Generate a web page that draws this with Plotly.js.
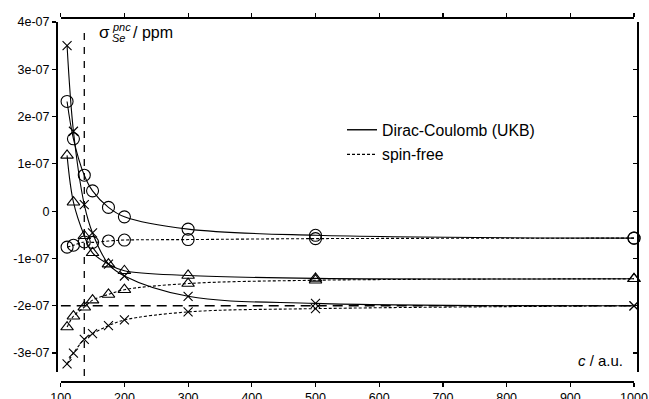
<!DOCTYPE html>
<html>
<head>
<meta charset="utf-8">
<script src="https://cdn.plot.ly/plotly-3.0.1.min.js"></script>
<style>
  html, body { margin: 0; padding: 0; background: #fff; }
  #chart { width: 649px; height: 399px; }
</style>
</head>
<body>
<div id="chart"></div>
<script>
// Speed of light c (a.u.) and shielding contribution for each basis set
const cValues = [110, 120, 137.036, 150, 175, 200, 300, 500, 1000];

// Dirac-Coulomb (UKB) results
const dcCircle   = [2.32e-7, 1.53e-7, 0.76e-7, 0.43e-7, 0.08e-7, -0.12e-7, -0.38e-7, -0.51e-7, -0.57e-7];
const dcTriangle = [1.18e-7, 0.19e-7, -0.52e-7, -0.88e-7, -1.12e-7, -1.26e-7, -1.36e-7, -1.42e-7, -1.43e-7];
const dcCross    = [3.50e-7, 1.69e-7, 0.14e-7, -0.46e-7, -1.12e-7, -1.37e-7, -1.80e-7, -1.95e-7, -2.00e-7];

// spin-free results
const sfCircle   = [-0.76e-7, -0.72e-7, -0.65e-7, -0.66e-7, -0.63e-7, -0.61e-7, -0.60e-7, -0.58e-7, -0.57e-7];
const sfTriangle = [-2.45e-7, -2.22e-7, -2.03e-7, -1.88e-7, -1.76e-7, -1.66e-7, -1.53e-7, -1.46e-7, -1.43e-7];
const sfCross    = [-3.23e-7, -3.00e-7, -2.71e-7, -2.59e-7, -2.42e-7, -2.30e-7, -2.13e-7, -2.06e-7, -2.00e-7];

// Reference lines: physical speed of light and the converged limit
const cPhysical = 137.036;
const sigmaLimit = -2e-7;

// Axis ticks
const xTicks = [100, 200, 300, 400, 500, 600, 700, 800, 900, 1000];
const yTickVals = [4e-7, 3e-7, 2e-7, 1e-7, 0, -1e-7, -2e-7, -3e-7];
const yTickText = ['4e-07', '3e-07', '2e-07', '1e-07', '0', '-1e-07', '-2e-07', '-3e-07'];

const legendNames = ['Dirac-Coulomb (UKB)', 'spin-free'];

const FONT = 'Liberation Sans, Arial, Helvetica, sans-serif';
const INK = '#000';

// figure geometry (pixels)
const W = 649, H = 399;
const M = { l: 56, r: 12, t: 17, b: 18 };
const PW = W - M.l - M.r, PH = H - M.t - M.b;
const px2x = p => (p - M.l) / PW;
const py2y = p => (H - M.b - p) / PH;

function series(y, symbol, dashed, size) {
  return {
    x: cValues, y: y, type: 'scatter', mode: 'lines+markers',
    showlegend: false, cliponaxis: false,
    line: { color: INK, width: 1.1, shape: 'spline', smoothing: 1, dash: dashed ? '3px,2px' : 'solid' },
    marker: { symbol: symbol, size: size, color: INK, line: { color: INK, width: 1.1 } },
    hoverinfo: 'skip'
  };
}

const traces = [
  series(sfCircle, 'circle-open', true, 12),
  series(sfTriangle, 'triangle-up-open', true, 11),
  series(sfCross, 'x-thin-open', true, 9),
  series(dcCircle, 'circle-open', false, 12),
  series(dcTriangle, 'triangle-up-open', false, 11),
  series(dcCross, 'x-thin-open', false, 9),
  // legend entries
  { x: [null], y: [null], xaxis: 'x2', yaxis: 'y2', type: 'scatter', mode: 'lines', name: legendNames[0],
    legendgroup: 'dc', line: { color: INK, width: 1.4 } },
  { x: [null], y: [null], xaxis: 'x2', yaxis: 'y2', type: 'scatter', mode: 'lines', name: legendNames[1],
    legendgroup: 'sf', line: { color: INK, width: 1.2, dash: '3px,2px' } }
];

const yTop = 4e-7;
const yBottom = -3.40e-7;
const xDomain = [px2x(60.7), px2x(634)];
const yDomain = [py2y(372), py2y(22)];

const layout = {
  width: W, height: H,
  margin: M,
  paper_bgcolor: '#fff', plot_bgcolor: '#fff',
  font: { family: FONT, size: 12.5, color: INK },
  showlegend: true,
  legend: {
    x: px2x(342), y: py2y(113), xanchor: 'left', yanchor: 'top',
    bgcolor: 'rgba(0,0,0,0)', borderwidth: 0,
    font: { family: FONT, size: 15.8, color: INK },
    tracegroupgap: 1
  },
  xaxis: {
    domain: xDomain, range: [100, 1000], anchor: 'free', position: 0,
    tickvals: xTicks, ticks: 'outside', ticklen: 4, tickwidth: 1.2, tickcolor: INK,
    showline: true, linecolor: INK, linewidth: 1.5, showgrid: false, zeroline: false,
    ticklabelstandoff: 0,
    tickfont: { family: FONT, size: 12.5, color: INK }
  },
  xaxis2: {
    overlaying: 'x', matches: 'x', side: 'top', anchor: 'free', position: 1,
    tickvals: xTicks, ticks: 'outside', ticklen: 4, tickwidth: 1.2, tickcolor: INK,
    showline: true, linecolor: INK, linewidth: 1.8, showgrid: false, zeroline: false,
    showticklabels: false
  },
  yaxis: {
    domain: yDomain, range: [yBottom, yTop], anchor: 'free', position: 0,
    tickvals: yTickVals, ticktext: yTickText, ticks: 'outside', ticklen: 4, tickwidth: 1.2, tickcolor: INK,
    showline: true, linecolor: INK, linewidth: 1.5, showgrid: false, zeroline: false,
    tickfont: { family: FONT, size: 12.5, color: INK }
  },
  yaxis2: {
    overlaying: 'y', matches: 'y', side: 'right', anchor: 'free', position: 1,
    tickvals: yTickVals, ticks: 'inside', ticklen: 4, tickwidth: 1.2, tickcolor: INK,
    showline: true, linecolor: INK, linewidth: 1.5, showgrid: false, zeroline: false,
    showticklabels: false
  },
  shapes: [
    { type: 'line', xref: 'x', yref: 'paper', x0: cPhysical, x1: cPhysical, y0: py2y(376), y1: py2y(26),
      line: { color: INK, width: 1.3, dash: '7px,7px' } },
    { type: 'line', xref: 'x', yref: 'y', x0: 100, x1: 1000, y0: sigmaLimit, y1: sigmaLimit,
      line: { color: INK, width: 1.5, dash: '10px,6px' } }
  ],
  annotations: [
    { xref: 'paper', yref: 'paper', x: px2x(97), y: py2y(33), xanchor: 'left', yanchor: 'middle',
      text: 'σ', showarrow: false, font: { family: FONT, size: 17, color: INK } },
    { xref: 'paper', yref: 'paper', x: px2x(110), y: py2y(27), xanchor: 'left', yanchor: 'middle',
      text: '<i>pnc</i>', showarrow: false, font: { family: FONT, size: 11, color: INK } },
    { xref: 'paper', yref: 'paper', x: px2x(110), y: py2y(38), xanchor: 'left', yanchor: 'middle',
      text: '<i>Se</i>', showarrow: false, font: { family: FONT, size: 11, color: INK } },
    { xref: 'paper', yref: 'paper', x: px2x(131), y: py2y(33), xanchor: 'left', yanchor: 'middle',
      text: '/ ppm', showarrow: false, font: { family: FONT, size: 16, color: INK } },
    { xref: 'paper', yref: 'paper', x: px2x(576), y: py2y(360), xanchor: 'left', yanchor: 'middle',
      text: '<i>c</i> / a.u.', showarrow: false, font: { family: FONT, size: 15, color: INK } }
  ]
};

Plotly.newPlot('chart', traces, layout, { staticPlot: true, displayModeBar: false });
</script>
</body>
</html>
